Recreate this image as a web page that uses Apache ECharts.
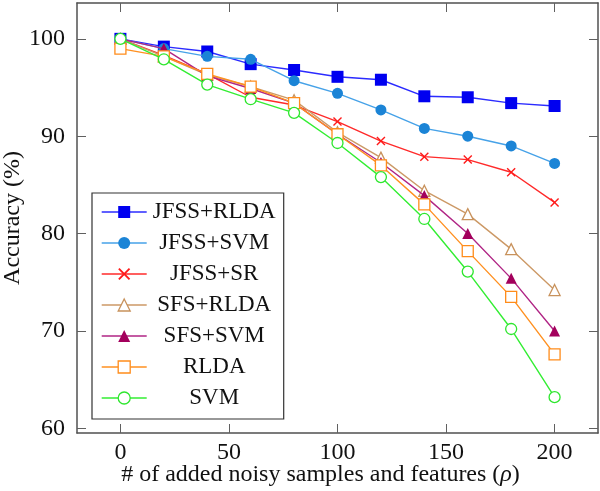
<!DOCTYPE html>
<html><head><meta charset="utf-8">
<script src="https://cdn.jsdelivr.net/npm/echarts@6/dist/echarts.min.js"></script>
<style>html,body{margin:0;padding:0;background:#fff}#c{width:600px;height:491px}</style>
</head><body><div id="c"></div>
<script>
const xValues = [0, 20, 40, 60, 80, 100, 120, 140, 160, 180, 200];
const jfssRlda = [100.0, 99.2, 98.7, 97.4, 96.8, 96.1, 95.8, 94.1, 94.0, 93.4, 93.1];
const jfssSvm  = [100.0, 99.0, 98.2, 97.9, 95.7, 94.4, 92.7, 90.8, 90.0, 89.0, 87.2];
const jfssSr   = [100.0, 98.3, 96.4, 94.0, 93.2, 91.5, 89.5, 87.9, 87.6, 86.3, 83.2];
const sfsRlda  = [100.0, 98.2, 96.3, 95.1, 93.7, 90.4, 87.8, 84.4, 82.0, 78.4, 74.2];
const sfsSvm   = [100.0, 99.0, 96.2, 94.9, 93.4, 90.2, 87.3, 83.9, 80.0, 75.4, 70.0];
const rlda     = [99.0, 98.2, 96.4, 95.1, 93.4, 90.2, 87.0, 83.0, 78.2, 73.5, 67.6];
const svm      = [100.0, 97.9, 95.3, 93.8, 92.4, 89.3, 85.8, 81.5, 76.1, 70.2, 63.2];
const xTicks = [0, 50, 100, 150, 200];
const yTicks = [60, 70, 80, 90, 100];
const seriesNames = ['JFSS+RLDA', 'JFSS+SVM', 'JFSS+SR', 'SFS+RLDA', 'SFS+SVM', 'RLDA', 'SVM'];

const FONT = 'Liberation Serif';
const CROSS = 'path://M0,1.1L1.1,0L5,3.9L8.9,0L10,1.1L6.1,5L10,8.9L8.9,10L5,6.1L1.1,10L0,8.9L3.9,5Z';

const styles = [
  {vals: jfssRlda, symbol: 'rect', size: 12, fill: '#0000f0', stroke: '#0000f0', bw: 0, line: '#2b2bff'},
  {vals: jfssSvm, symbol: 'circle', size: 11, fill: '#1b84d6', stroke: '#1b84d6', bw: 0, line: '#46a2e8'},
  {vals: jfssSr, symbol: CROSS, size: 9, fill: '#ff1a1a', stroke: '#ff1a1a', bw: 0, line: '#ff2a2a'},
  {vals: sfsRlda, symbol: 'triangle', size: 11, fill: '#ffffff', stroke: '#c8925c', bw: 1.3, line: '#cc9966'},
  {vals: sfsSvm, symbol: 'triangle', size: 11, fill: '#a3005c', stroke: '#a3005c', bw: 0, line: '#b02585'},
  {vals: rlda, symbol: 'rect', size: 11, fill: '#ffffff', stroke: '#ff8c1a', bw: 1.3, line: '#ff9020'},
  {vals: svm, symbol: 'circle', size: 11, fill: '#ffffff', stroke: '#2ee62e', bw: 1.3, line: '#33ee33'}
];

const series = styles.map((s, k) => ({
  name: seriesNames[k],
  type: 'line',
  xAxisIndex: 0, yAxisIndex: 0,
  data: xValues.map((x, i) => [x, s.vals[i]]),
  symbol: s.symbol,
  symbolSize: s.size,
  showAllSymbol: true,
  lineStyle: {color: s.line, width: 1.4},
  itemStyle: {color: s.fill, borderColor: s.stroke, borderWidth: s.bw},
  emphasis: {disabled: true},
  z: 3 + k
}));

const legendData = styles.map((s, k) => ({
  name: seriesNames[k],
  itemStyle: {color: s.fill, borderColor: s.stroke, borderWidth: s.bw},
  lineStyle: {color: s.line, width: 1.4},
  textStyle: {fontFamily: FONT, fontSize: 23}
}));

const axisLine = {show: true, onZero: false, lineStyle: {color: '#505050', width: 1.5}};
const tickStyle = {color: '#606060', width: 1};

const option = {
  animation: false,
  backgroundColor: '#fff',
  textStyle: {fontFamily: FONT, color: '#111'},
  grid: {left: 77, right: 2, top: 3, bottom: 58, containLabel: false, outerBoundsMode: 'none'},
  xAxis: [
    {
      type: 'value', position: 'bottom', min: -20, max: 220,
      axisLine: axisLine,
      axisTick: {show: true, inside: true, length: 9, customValues: xTicks, lineStyle: tickStyle},
      axisLabel: {show: true, customValues: xTicks, margin: 8, fontSize: 24, fontFamily: FONT, color: '#111'},
      splitLine: {show: false},
      name: '# of added noisy samples and features ({i|ρ})',
      nameLocation: 'middle', nameGap: 30, nameMoveOverlap: false,
      nameTextStyle: {fontSize: 24, fontFamily: FONT, color: '#111', padding: [0, 34, 0, 0],
        rich: {i: {fontStyle: 'italic', fontSize: 24, fontFamily: FONT, color: '#111'}}}
    },
    {
      type: 'value', position: 'top', min: -20, max: 220,
      axisLine: axisLine,
      axisTick: {show: true, inside: true, length: 9, customValues: xTicks, lineStyle: tickStyle},
      axisLabel: {show: false},
      splitLine: {show: false}
    }
  ],
  yAxis: [
    {
      type: 'value', position: 'left', min: 59.52, max: 103.68,
      axisLine: axisLine,
      axisTick: {show: true, inside: true, length: 9, customValues: yTicks, lineStyle: tickStyle},
      axisLabel: {show: true, customValues: yTicks, margin: 12, fontSize: 24, fontFamily: FONT, color: '#111'},
      splitLine: {show: false},
      name: 'Accuracy (%)', nameLocation: 'middle', nameGap: 52, nameMoveOverlap: false,
      nameTextStyle: {fontSize: 24, fontFamily: FONT, color: '#111'}
    },
    {
      type: 'value', position: 'right', min: 59.52, max: 103.68,
      axisLine: axisLine,
      axisTick: {show: true, inside: true, length: 9, customValues: yTicks, lineStyle: tickStyle},
      axisLabel: {show: false},
      splitLine: {show: false}
    }
  ],
  legend: {
    orient: 'vertical', left: 92, top: 193,
    itemWidth: 45, itemHeight: 15, itemGap: 8,
    padding: [7.5, 7, 9.5, 9],
    borderColor: '#333', borderWidth: 1.2, backgroundColor: '#fff',
    selectedMode: false,
    data: legendData,
    formatter: name => '{c|' + name + '}',
    textStyle: {fontFamily: FONT, fontSize: 23, lineHeight: 23, color: '#111',
      rich: {c: {width: 125, align: 'center', fontFamily: FONT, fontSize: 23, lineHeight: 23, color: '#111'}}}
  },
  series: series
};
const chart = echarts.init(document.getElementById('c'), null, {renderer: 'canvas'});
chart.setOption(option);
</script>
</body></html>
